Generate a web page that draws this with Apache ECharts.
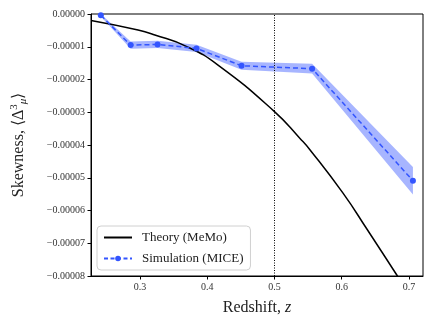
<!DOCTYPE html>
<html>
<head>
<meta charset="utf-8">
<script src="https://cdn.jsdelivr.net/npm/echarts@6/dist/echarts.min.js"></script>
<style>
    html, body { margin: 0; padding: 0; background: #fff; }
    #chart { width: 436px; height: 327px; }
</style>
</head>
<body>
<div id="chart"></div>
<script>
(() => {

    // theory curve (MeMo)
    var theoryZ = [0.227, 0.297, 0.322, 0.368, 0.416, 0.500, 0.538, 0.553, 0.602, 0.637, 0.682, 0.700];
    var theoryY = [-0.0000020, -0.0000049, -0.0000064, -0.0000098, -0.0000156, -0.0000298, -0.0000380, -0.0000415, -0.0000547, -0.0000655, -0.0000797, -0.0000855];

    // simulation (MICE) points and half width of the shaded band
    var simZ = [0.2416, 0.286, 0.326, 0.384, 0.451, 0.556, 0.706];
    var simY = [-0.0000004, -0.0000095, -0.0000093, -0.0000105, -0.0000158, -0.0000167, -0.0000509];
    var simErr = [0.0000004, 0.0000011, 0.0000011, 0.0000011, 0.0000012, 0.0000015, 0.0000042];

    var xTicks = [0.3, 0.4, 0.5, 0.6, 0.7];
    var markZ = 0.5;

    var serif = 'Liberation Serif';
    var blue = '#3355ff';

    let pairs = (xs, ys) => xs.map((x, i) => [x, ys[i]]);

    // shaded band: one polygon through upper edge then back along lower edge
    let renderBand = (params, api) => {
        if (params.dataIndex !== 0) {
            return null;
        }
        let upper = simZ.map((z, i) => api.coord([z, simY[i] + simErr[i]]));
        let lower = simZ.map((z, i) => api.coord([z, simY[i] - simErr[i]])).reverse();
        return {
            type: 'polygon',
            shape: { points: upper.concat(lower) },
            style: { fill: 'rgba(60, 90, 255, 0.45)', stroke: 'none' }
        };
    };

    let option = {
        animation: false,
        backgroundColor: '#fff',
        grid: {
            left: 91,
            right: 13,
            top: 14,
            bottom: 51,
            show: true,
            borderColor: '#000',
            borderWidth: 1,
            backgroundColor: 'transparent'
        },
        legend: {
            data: [
                { name: 'Theory (MeMo)', itemStyle: { opacity: 0 } },
                { name: 'Simulation (MICE)', lineStyle: { type: [4, 2.5] } }
            ],
            orient: 'vertical',
            left: 97,
            top: 226,
            itemWidth: 28,
            itemHeight: 7,
            itemGap: 8,
            padding: [5, 7, 5, 6],
            backgroundColor: 'rgba(255,255,255,0.8)',
            borderColor: '#d0d0d0',
            borderWidth: 1,
            borderRadius: 4,
            textStyle: {
                fontFamily: serif,
                fontSize: 13,
                color: '#222',
                padding: [0, 0, 0, 5]
            }
        },
        xAxis: {
            type: 'value',
            min: 0.227,
            max: 0.721,
            name: '{a|Redshift, }{i|z}',
            nameLocation: 'middle',
            nameGap: 24,
            nameTextStyle: {
                rich: {
                    a: { fontFamily: serif, fontSize: 16, color: '#222' },
                    i: { fontFamily: serif, fontSize: 16, fontStyle: 'italic', color: '#222' }
                }
            },
            splitLine: { show: false },
            axisLine: { onZero: false, lineStyle: { color: '#000', width: 1 } },
            axisTick: {
                inside: false,
                length: 3.5,
                customValues: xTicks,
                lineStyle: { color: '#000' }
            },
            axisLabel: {
                customValues: xTicks,
                fontFamily: serif,
                fontSize: 10,
                color: '#333',
                margin: 6,
                formatter: v => v.toFixed(1)
            }
        },
        yAxis: {
            type: 'value',
            min: -0.00008,
            max: 0,
            interval: 0.00001,
            name: '{a|Skewness, \u27e8\u0394}{sup|3}{sub|\u03bc}{a|\u27e9}',
            nameLocation: 'middle',
            nameGap: 62,
            nameRotate: 90,
            nameTextStyle: {
                rich: {
                    a: { fontFamily: serif, fontSize: 16, color: '#222', lineHeight: 20 },
                    sup: { fontFamily: serif, fontSize: 11, color: '#222', verticalAlign: 'top', lineHeight: 20 },
                    sub: { fontFamily: serif, fontSize: 11, fontStyle: 'italic', color: '#222', verticalAlign: 'bottom', lineHeight: 20 }
                }
            },
            splitLine: { show: false },
            axisLine: { onZero: false, lineStyle: { color: '#000', width: 1 } },
            axisTick: { inside: false, length: 3.5, lineStyle: { color: '#000' } },
            axisLabel: {
                fontFamily: serif,
                fontSize: 10,
                color: '#333',
                margin: 6,
                formatter: v => v === 0 ? '0.00000' : '\u2212' + Math.abs(v).toFixed(5)
            }
        },
        series: [
            {
                name: 'band',
                type: 'custom',
                renderItem: renderBand,
                data: simZ.map((z, i) => [z, simY[i] - simErr[i], simY[i] + simErr[i]]),
                encode: { x: 0, y: [1, 2] },
                silent: true,
                z: 1
            },
            {
                name: 'Theory (MeMo)',
                type: 'line',
                data: pairs(theoryZ, theoryY),
                smooth: true,
                symbol: 'none',
                color: '#000',
                lineStyle: { color: '#000', width: 1.5 },
                z: 3,
                markLine: {
                    silent: true,
                    symbol: 'none',
                    label: { show: false },
                    lineStyle: { color: '#000', type: [1, 1.5], width: 1 },
                    data: [{ xAxis: markZ }]
                }
            },
            {
                name: 'Simulation (MICE)',
                type: 'line',
                data: pairs(simZ, simY),
                symbol: 'circle',
                symbolSize: 6,
                color: blue,
                itemStyle: { color: blue },
                lineStyle: { color: blue, width: 1.5, type: [5, 3] },
                z: 4
            }
        ]
    };

    var myChart = echarts.init(document.getElementById('chart'), null, { renderer: 'canvas' });
    myChart.setOption(option);

})();
</script>
</body>
</html>
